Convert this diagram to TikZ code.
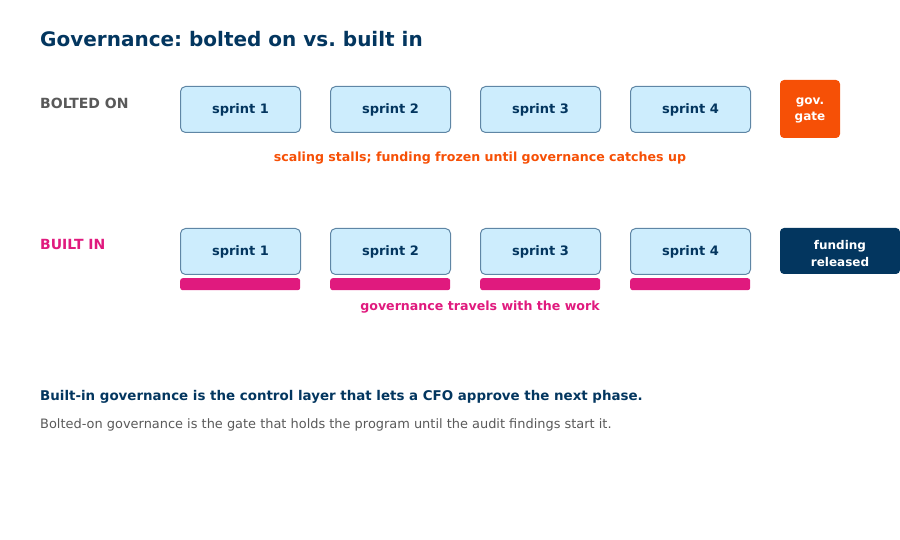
\documentclass[tikz,border=0pt]{standalone}
\usepackage{fontspec}
\setmainfont{DejaVu Sans}
\frenchspacing
\definecolor{navy}{HTML}{03365F}
\definecolor{greytxt}{HTML}{595959}
\definecolor{orng}{HTML}{F65006}
\definecolor{magenta}{HTML}{E01A7E}
\definecolor{sprintfill}{HTML}{CDEDFD}
\definecolor{sprintdraw}{HTML}{5F86A5}
\tikzset{
  sprintbox/.style={draw=sprintdraw, line width=1pt, fill=sprintfill, rounded corners=5pt,
    minimum width=120pt, minimum height=46pt, inner sep=0pt, anchor=north west},
  sprinttext/.style={anchor=base, inner sep=0pt, text=navy, font=\fontsize{13}{15}\selectfont\bfseries},
  govbox/.style={fill=orng, rounded corners=4pt, minimum width=60pt, minimum height=58pt,
    inner sep=0pt},
  fundbox/.style={fill=navy, rounded corners=4pt, minimum width=120pt, minimum height=46pt,
    inner sep=0pt},
  boxtext/.style={anchor=base, inner sep=0pt, text=white, font=\fontsize{12}{16}\selectfont\bfseries},
  govbar/.style={fill=magenta, rounded corners=2.5pt, minimum width=120pt, minimum height=12pt,
    inner sep=0pt, anchor=north west},
  rowlabel/.style={anchor=base west, inner sep=0pt, font=\fontsize{14}{16}\selectfont\bfseries},
  caption/.style={anchor=base, inner sep=0pt, font=\fontsize{12.6}{14}\selectfont\bfseries},
}
\begin{document}
\begin{tikzpicture}[x=1pt,y=-1pt]
\useasboundingbox (0,0) rectangle (900,540);
\node[anchor=base west, inner sep=0pt, text=navy, font=\fontsize{20}{24}\selectfont\bfseries] (title) at (40,46.5) {Governance: bolted on vs. built in};

\node[rowlabel, text=greytxt] (lbolted) at (40,109) {BOLTED ON};
\foreach \i/\x in {1/180,2/330,3/480,4/630}{
  \node[sprintbox] (a\i) at (\x,86) {};
  \node[sprinttext] (at\i) at ([yshift=-4.5pt]a\i.center) {sprint \i};
}
\node[govbox] (gate) at (810,109) {};
\node[boxtext] (gate1) at (810,105) {gov.};
\node[boxtext] (gate2) at (810,121) {gate};
\node[caption, text=orng] (cap1) at (480,162) {scaling stalls; funding frozen until governance catches up};

\node[rowlabel, text=magenta] (lbuilt) at (40,250) {BUILT IN};
\foreach \i/\x in {1/180,2/330,3/480,4/630}{
  \node[sprintbox] (b\i) at (\x,228) {};
  \node[sprinttext] (bt\i) at ([yshift=-4.5pt]b\i.center) {sprint \i};
  \node[govbar] (g\i) at (\x,278) {};
}
\node[fundbox] (fund) at (840,251) {};
\node[boxtext] (fund1) at (840,250) {funding};
\node[boxtext] (fund2) at (840,266) {released};
\node[caption, text=magenta] (cap2) at (480,310) {governance travels with the work};

\node[anchor=base west, inner sep=0pt, text=navy, font=\fontsize{13.4}{16}\selectfont\bfseries] (concl) at (40,400) {Built-in governance is the control layer that lets a CFO approve the next phase.};
\node[anchor=base west, inner sep=0pt, text=greytxt, font=\fontsize{12.93}{16}\selectfont] (note) at (40,428) {Bolted-on governance is the gate that holds the program until the audit findings start it.};
\end{tikzpicture}
\end{document}
